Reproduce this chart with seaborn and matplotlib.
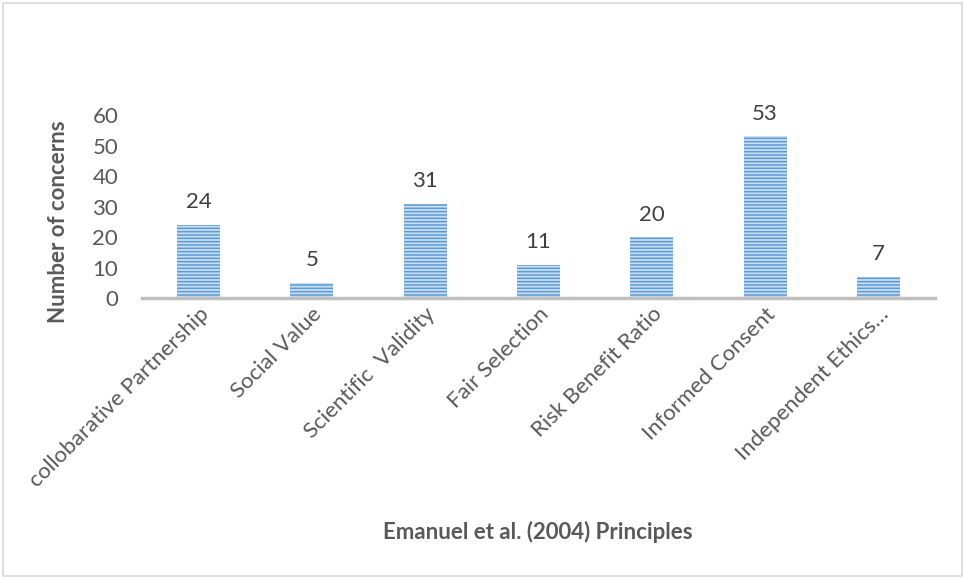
import matplotlib
matplotlib.use("Agg")
import matplotlib.pyplot as plt
import seaborn as sns
from matplotlib.patches import Rectangle

principles = ["collobarative Partnership", "Social Value", "Scientific  Validity",
              "Fair Selection", "Risk Benefit Ratio", "Informed Consent",
              "Independent Ethics\u2026"]
concerns = [24, 5, 31, 11, 20, 53, 7]
y_ticks = [0, 10, 20, 30, 40, 50, 60]

sns.set_theme(style="white")
plt.rcParams["font.family"] = ["Lato", "DejaVu Sans"]
plt.rcParams["hatch.linewidth"] = 1.1

fig = plt.figure(figsize=(9.65, 5.78), dpi=100)
ax = fig.add_axes([0.147, 0.484, 0.822, 0.317])

sns.barplot(x=principles, y=concerns, ax=ax, width=0.38, color="#C9DEF2",
            saturation=1, edgecolor="#5B9BD5", linewidth=0)
for p in ax.patches:
    p.set_hatch("-----")
    p.set_edgecolor("#5B9BD5")
    p.set_linewidth(0)

ax.bar_label(ax.containers[0], labels=[str(v) for v in concerns], padding=9,
             fontsize=16, color="#404040", clip_on=False)

ax.set_ylim(0, 60)
ax.set_yticks(y_ticks)
ax.set_xlim(-0.5, len(principles) - 0.5)
ax.tick_params(axis="y", labelsize=16, labelcolor="#595959", length=0, pad=17)
ax.tick_params(axis="x", labelsize=16, labelcolor="#595959", length=0, pad=4)
plt.setp(ax.get_xticklabels(), rotation=45, ha="right", va="top",
         rotation_mode="anchor")

for s in ["top", "right", "left"]:
    ax.spines[s].set_visible(False)
ax.spines["bottom"].set_color("#BFBFBF")
ax.spines["bottom"].set_linewidth(2.5)

ax.set_ylabel("Number of concerns", fontsize=16, fontweight="bold",
              color="#595959")
ax.yaxis.set_label_coords(-0.092, 0.42)
fig.text(0.557, 0.079, "Emanuel et al. (2004) Principles", fontsize=16,
         fontweight="bold", color="#595959", ha="center", va="center")

fig.patches.append(Rectangle((0.003, 0.004), 0.994, 0.99, transform=fig.transFigure,
                             fill=False, edgecolor="#D9D9D9", linewidth=1.2))

fig.savefig("out.png", dpi=100)
